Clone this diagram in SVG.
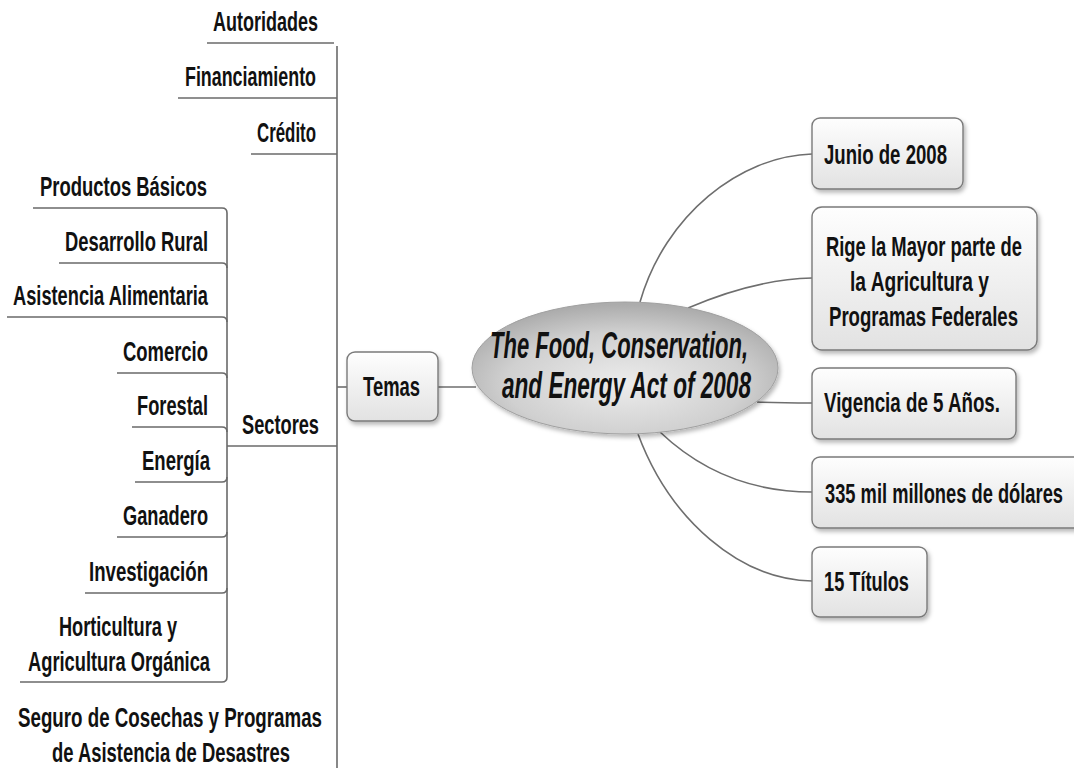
<svg xmlns="http://www.w3.org/2000/svg" width="1074" height="771" viewBox="0 0 1074 771">
<style>
.t{font-family:"Liberation Sans",Arial,sans-serif;font-weight:bold;font-size:28px;fill:#111}
.c{font-family:"Liberation Sans",Arial,sans-serif;font-weight:bold;font-style:italic;font-size:37px;fill:#111}
.tree{fill:none;stroke:#6a6a6a;stroke-width:1.6}
.con{fill:none;stroke:#6e6e6e;stroke-width:1.6}
.box{fill:url(#boxg);stroke:#7a7a7a;stroke-width:1.4}
</style>
<defs>
<linearGradient id="boxg" x1="0" y1="0" x2="0" y2="1">
<stop offset="0" stop-color="#fefefe"/>
<stop offset="1" stop-color="#e2e2e2"/>
</linearGradient>
<radialGradient id="ellg" cx="0.5" cy="0.62" r="0.6">
<stop offset="0" stop-color="#ececec"/>
<stop offset="0.65" stop-color="#d0d0d0"/>
<stop offset="1" stop-color="#acacac"/>
</radialGradient>
<filter id="sh" x="-10%" y="-10%" width="130%" height="140%">
<feDropShadow dx="2" dy="3" stdDeviation="2" flood-color="#000" flood-opacity="0.28"/>
</filter>
</defs>
<rect width="1074" height="771" fill="#fff"/>

<g id="connectors">
<path class="tree" d="M337,46 V768"/>
<path class="tree" d="M207,43 H334"/>
<path class="tree" d="M178,98 H337"/>
<path class="tree" d="M251,154 H337"/>
<path class="tree" d="M227,446 H337"/>
<path class="tree" d="M33,208 H222 Q227,208 227,213 V677 Q227,682 222,682 H20"/>
<path class="tree" d="M59,263 H222 Q227,263 227,268"/>
<path class="tree" d="M7,317 H222 Q227,317 227,322"/>
<path class="tree" d="M117,373 H222 Q227,373 227,378"/>
<path class="tree" d="M132,427 H222 Q227,427 227,432"/>
<path class="tree" d="M135,482 H222 Q227,482 227,477"/>
<path class="tree" d="M117,537 H222 Q227,537 227,532"/>
<path class="tree" d="M85,593 H222 Q227,593 227,588"/>
<path class="con" d="M337,387 H347"/>
<path class="con" d="M438,387 H476"/>
<path class="con" d="M640,302 C665,215 740,156 812,154"/>
<path class="con" d="M688,308 C730,290 770,279 812,278"/>
<path class="con" d="M757,402 C780,403 795,403 812,403"/>
<path class="con" d="M660,432 C700,470 750,492 812,492"/>
<path class="con" d="M638,434 C670,520 740,580 812,581"/>
</g>

<g id="autoridades"><text class="t" x="213" y="31" textLength="105" lengthAdjust="spacingAndGlyphs">Autoridades</text></g>
<g id="financiamiento"><text class="t" x="185" y="86" textLength="131" lengthAdjust="spacingAndGlyphs">Financiamiento</text></g>
<g id="credito"><text class="t" x="257" y="142" textLength="59" lengthAdjust="spacingAndGlyphs">Crédito</text></g>
<g id="sectores"><text class="t" x="242" y="434" textLength="77" lengthAdjust="spacingAndGlyphs">Sectores</text></g>
<g id="productos"><text class="t" x="40" y="196" textLength="167" lengthAdjust="spacingAndGlyphs">Productos Básicos</text></g>
<g id="desarrollo"><text class="t" x="65" y="251" textLength="143" lengthAdjust="spacingAndGlyphs">Desarrollo Rural</text></g>
<g id="asistencia"><text class="t" x="13" y="305" textLength="195" lengthAdjust="spacingAndGlyphs">Asistencia Alimentaria</text></g>
<g id="comercio"><text class="t" x="123" y="361" textLength="85" lengthAdjust="spacingAndGlyphs">Comercio</text></g>
<g id="forestal"><text class="t" x="137" y="415" textLength="71" lengthAdjust="spacingAndGlyphs">Forestal</text></g>
<g id="energia"><text class="t" x="142" y="470" textLength="68" lengthAdjust="spacingAndGlyphs">Energía</text></g>
<g id="ganadero"><text class="t" x="123" y="525" textLength="85" lengthAdjust="spacingAndGlyphs">Ganadero</text></g>
<g id="investigacion"><text class="t" x="89" y="581" textLength="119" lengthAdjust="spacingAndGlyphs">Investigación</text></g>
<g id="horticultura">
<text class="t" x="59" y="636" textLength="118" lengthAdjust="spacingAndGlyphs">Horticultura y</text>
<text class="t" x="28" y="671" textLength="182" lengthAdjust="spacingAndGlyphs">Agricultura Orgánica</text>
</g>
<g id="seguro">
<text class="t" x="18" y="727" textLength="304" lengthAdjust="spacingAndGlyphs">Seguro de Cosechas y Programas</text>
<text class="t" x="52" y="762" textLength="238" lengthAdjust="spacingAndGlyphs">de Asistencia de Desastres</text>
</g>

<g id="temas">
<rect class="box" x="347" y="352" width="91" height="69" rx="8" filter="url(#sh)"/>
<text class="t" x="363" y="396" textLength="57" lengthAdjust="spacingAndGlyphs">Temas</text>
</g>

<g id="central">
<ellipse cx="625" cy="368" rx="153" ry="66" fill="url(#ellg)" stroke="#a0a0a0" stroke-width="1" filter="url(#sh)"/>
<text class="c" x="490" y="358" textLength="258" lengthAdjust="spacingAndGlyphs">The Food, Conservation,</text>
<text class="c" x="502" y="398" textLength="249" lengthAdjust="spacingAndGlyphs">and Energy Act of 2008</text>
</g>

<g id="junio">
<rect class="box" x="812" y="118" width="151" height="71" rx="8" filter="url(#sh)"/>
<text class="t" x="824" y="164" textLength="123" lengthAdjust="spacingAndGlyphs">Junio de 2008</text>
</g>
<g id="rige">
<rect class="box" x="812" y="207" width="225" height="143" rx="10" filter="url(#sh)"/>
<text class="t" x="826" y="256" textLength="196" lengthAdjust="spacingAndGlyphs">Rige la Mayor parte de</text>
<text class="t" x="850" y="291" textLength="139" lengthAdjust="spacingAndGlyphs">la Agricultura y</text>
<text class="t" x="829" y="326" textLength="189" lengthAdjust="spacingAndGlyphs">Programas Federales</text>
</g>
<g id="vigencia">
<rect class="box" x="812" y="368" width="204" height="71" rx="8" filter="url(#sh)"/>
<text class="t" x="824" y="412" textLength="176" lengthAdjust="spacingAndGlyphs">Vigencia de 5 Años.</text>
</g>
<g id="millones">
<rect class="box" x="812" y="457" width="270" height="71" rx="8" filter="url(#sh)"/>
<text class="t" x="825" y="503" textLength="238" lengthAdjust="spacingAndGlyphs">335 mil millones de dólares</text>
</g>
<g id="titulos">
<rect class="box" x="812" y="547" width="115" height="70" rx="8" filter="url(#sh)"/>
<text class="t" x="824" y="591" textLength="85" lengthAdjust="spacingAndGlyphs">15 Títulos</text>
</g>
</svg>
